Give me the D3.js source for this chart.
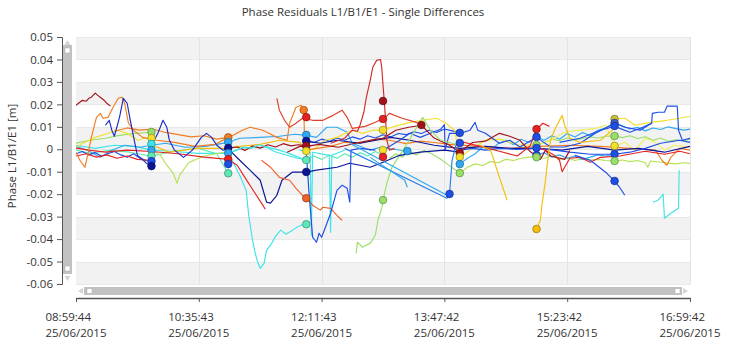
<!DOCTYPE html>
<html><head><meta charset="utf-8">
<script src="https://cdn.jsdelivr.net/npm/d3@7"></script>
<style>
body{margin:0;background:#fff}
svg{display:block}
text{font-family:"Open Sans",sans-serif;}
</style>
</head><body>
<svg id="chart" width="729" height="346"></svg>
<script>
// ---------- text / ticks ----------
const chartTitle = "Phase Residuals L1/B1/E1 - Single Differences";
const yAxisTitle = "Phase L1/B1/E1 [m]";
const yTicks = [-0.06,-0.05,-0.04,-0.03,-0.02,-0.01,0,0.01,0.02,0.03,0.04,0.05];
const xTickTimes = ["08:59:44","10:35:43","12:11:43","13:47:42","15:23:42","16:59:42"];
const xTickDate = "25/06/2015";
const startTime = "08:59:44";

// ---------- series: [minutes since 08:59:44, residual in m] ----------
const s01 = [[0,.0196],[2,.0205],[5,.0218],[8,.0214],[10,.0227],[12,.0232],[15,.025],[17,.024],[20,.0227],[22,.0218],[24,.0205],[27,.0192]];
const s02 = [[0,-.0013],[3,-.0049],[7,-.008],[10,-.0004],[12,.0053],[16,.0142],[19,.016],[21,.0138],[25,.0142],[29,.0187],[33,.0227],[36,.0232],[38,.0205],[41,.0116],[45,.0085],[52,.0053],[63,.004],[77,.0031],[93,.0013],[109,.0022],[119,.0053]];
const s03 = [[120,.0053],[130,.0085],[136,.0098],[146,.0085],[157,.0053],[165,.004],[167,.0116],[172,.0187],[176,.0196],[178,.0174],[179,-.0004],[199,.0013],[210,.0031],[222,.0027],[235,.0045],[245,.004],[258,.0025],[269,.0036],[280,.003],[292,.0022],[316,.0013],[339,.0004],[363,.0013],[386,.0018],[410,.0013],[433,.0004],[453,-.0004],[458,-.0049],[462,-.0071],[465,-.0036],[472,.0004],[480,-.0004]];
const s04 = [[23,.0107],[26,.0129],[28,.0085],[30,.0058],[34,.0142],[37,.0227],[40,.0205],[42,.0142],[46,.0027],[48,-.0027],[51,-.004],[55,-.0062],[59,-.0076]];
const s05 = [[60,.0027],[64,.0071],[68,.0129],[71,.0098],[73,.004],[77,-.0004],[84,-.0036],[91,-.0004],[98,.0053],[102,.0071],[106,.0053],[110,.0018],[115,-.0004],[119,.0004]];
const s06 = [[120,-.0004],[128,-.0049],[136,-.0093],[144,-.0138],[149,-.0236],[152,-.024],[157,-.0205],[161,-.0138],[169,-.0102],[180,-.0102],[188,-.0093],[204,-.008],[214,-.0062],[230,-.008],[240,-.0058],[253,-.0027],[269,-.0013],[288,-.0004],[300,-.0013]];
const s07 = [[199,.0027],[210,.0049],[216,.0085],[220,.008],[222,.0107],[225,.0165],[227,.0232],[230,.0307],[232,.0365],[235,.0396],[238,.04],[239,.0365],[240,.0285],[241,.0214],[242,.013],[243,.004],[245,-.0004],[249,.0004]];
const s08 = [[157,.0227],[159,.0174],[163,.0129],[167,.0098],[172,.0116],[177,.0138],[185,.0129],[193,.0129],[201,.0151],[208,.0174],[212,.0142],[216,.0093],[226,.0102],[234,.012],[242,.0142],[245,.016],[255,.0138],[266,.012],[270,.0107]];
const s09 = [[119,-.0045],[126,-.0071],[132,-.0125],[141,-.0205],[146,-.0249],[148,-.0267]];
const s10 = [[145,-.0049],[152,-.008],[159,-.0125],[167,-.0138],[172,-.0174],[177,-.0205],[180,-.0218],[185,-.0249],[191,-.0271],[193,-.0258],[199,-.0263],[204,-.0294],[208,-.0316]];
const s11 = [[122,-.0049],[128,-.0116],[133,-.0183],[135,-.0294],[138,-.0405],[140,-.046],[142,-.0503],[144,-.053],[147,-.0508],[149,-.045],[153,-.0418],[156,-.0388],[160,-.036],[164,-.0378],[168,-.0365],[172,-.035],[176,-.0338],[180,-.0334]];
const s12 = [[175,-.0004],[183,-.0013],[184,-.0383],[185,-.0013],[198,-.0027],[199,-.037],[200,-.0027],[210,-.0004]];
const s13 = [[180,-.0004],[182,-.0183],[185,-.0392],[188,-.0414],[190,-.0374],[192,-.0392],[195,-.0347],[199,-.0285],[204,-.0183],[208,-.016],[212,-.0174],[214,-.0236],[215,-.0004],[222,.0004],[234,-.0004]];
const s14 = [[219,-.0463],[220,-.0414],[224,-.0436],[230,-.0418],[234,-.0383],[236,-.0316],[239,-.0263],[240,-.0227],[243,-.0151],[247,-.008],[252,-.0036],[259,.0027],[265,.0085],[271,.0142],[277,.0085],[285,.004],[300,.0018]];
const s15 = [[210,.0004],[290,-.0218],[292,-.02],[294,-.0049],[297,.0018]];
const s16 = [[214,.0027],[290,-.0205]];
const s17 = [[230,-.0036],[257,-.0138],[259,-.0169]];
const s18 = [[360,-.0356],[363,-.0316],[364,-.0258],[367,-.0138],[369,-.0036],[371,.004],[374,.0085],[378,.0129],[380,.0151],[382,.0107],[386,.0049],[394,.0031],[410,.004],[421,.0094]];
const s19 = [[316,.0018],[324,-.0004],[326,-.0036],[331,-.0125],[337,-.0227]];
const s20 = [[378,.0031],[394,.0049],[410,.0085],[421,.0102],[433,.0076],[443,.0098],[450,.0116],[450.5,.016],[455,.0165],[460,.0165],[462,.0192],[470,.0192],[471,.0085],[474,.004],[480,.0049]];
const s21 = [[451,-.0236],[455,-.0227],[459,-.02],[460,-.0307],[465,-.0285],[471,-.0263],[471.5,-.0093]];
const s22 = [[390,-.0027],[402,-.0049],[415,-.0107],[421,-.0142],[425,-.017],[429,-.0205]];
const s23 = [[0,.001],[7,.0031],[15,.0053],[23,.0067],[32,.0085],[40,.0071],[48,.004],[54,.0049],[59,.0049]];
const s24 = [[62,.0013],[73,-.0013],[85,-.0004],[95,.0004],[118,.0004],[128,.0013],[144,.0022],[159,.004],[175,.0031],[180,-.0009]];
const s25 = [[180,-.0009],[187,.0004],[195,.004],[204,.0053],[216,.0085],[224,.0071],[232,.0085],[240,.0085],[249,.0102],[261,.012],[271,.0129],[282,.0138],[288,.012],[296,.0085],[300,-.0036]];
const s26 = [[300,-.0036],[310,.0005],[320,.004],[331,.0045],[345,.002],[360,.0018]];
const s27 = [[421,.0134],[429,.0138],[437,.0107],[449,.012],[462,.0129],[472,.0138],[480,.0147]];
const s28 = [[360,.0018],[371,.004],[382,.0076],[394,.0085],[406,.0093],[414,.0107],[421,.0013],[429,.0031],[437,-.0004],[445,.0049],[453,.0031],[460,-.0004],[468,.0018],[480,.0009]];
const s29 = [[0,.0027],[11,.004],[23,.0049],[34,.0062],[46,.0071],[59,.0076]];
const s30 = [[59,-.0004],[66,-.0027],[71,-.0071],[76,-.0107],[79,-.0151],[81,-.0116],[88,-.006],[100,-.003],[119,-.001]];
const s31 = [[0,-.0004],[11,-.0018],[27,-.0004],[42,-.0013],[59,-.0031],[75,-.001],[95,.0005],[110,-.002],[119,-.0107]];
const s32 = [[0,.0013],[9,-.0004],[19,-.0036],[28,-.0004],[38,.0018],[50,.0009],[59,.0018],[70,.0027],[85,.0009],[101,.0013],[119,.0031],[128,.0049],[144,.0053],[159,.0058],[171,.0067],[180,.0062],[188,.0053],[196,.0098],[204,.0098],[212,.0076],[216,.0027],[230,-.0004],[238,.0009],[259,-.0009]];
const s33 = [[0,.0018],[15,.0004],[30,.0018],[46,.0013],[59,-.0004],[75,-.0009],[95,-.0018],[119,-.0018],[130,.0005],[150,.001],[165,-.0015],[180,-.0049]];
const s34 = [[240,-.0004],[253,.004],[261,.0071],[269,.0053],[277,.0071],[285,.0089],[288,.011],[288.5,-.0004],[292,.0071],[300,.0071],[308,.0085],[312,.012],[314,.0085],[320,.0071],[331,.0027],[339,.004],[347,.001],[360,.0053],[371,.001],[382,.001],[394,.0027],[406,.0071],[421,.0116],[429,.0098],[441,.0085],[450,.0116]];
const s35 = [[300,-.0004],[310,.0004],[320,-.0004],[331,.0004],[345,-.0001],[360,.0004],[374,-.0004],[386,-.0013],[402,-.0022],[421,-.0022],[433,-.0013],[445,.0004],[457,.0027],[472,.004],[480,.0031]];
const s36 = [[180,.0036],[191,.0027],[204,.004],[222,.0027],[246,.0053],[261,.004],[280,.0018],[300,.0004],[320,.0013],[340,.0004],[360,.0004],[380,-.0004],[400,.0013],[421,-.0004],[440,.0004],[460,-.0013],[480,.0013]];
const s37 = [[165,-.0013],[175,.0013],[180,.0013],[190,.0022],[205,.0009],[222,.0031],[235,.0045],[240,.0049],[250,.0085],[260,.0098],[270,.0107],[280,.005],[292,.0018],[300,-.0013],[310,.003],[320,.0036],[331,.0071],[339,.0058],[347,.004],[355,-.001],[363,-.0045],[367,-.0005],[371,-.003],[382,-.0045],[386,-.0005]];
const s38 = [[0,.0005],[10,-.0004],[23,-.0013],[40,-.0004],[59,-.001],[80,-.002],[100,-.0035],[119,-.0045]];
const s39 = [[300,.0036],[316,.0013],[331,-.0009],[345,-.003],[355,.0015],[360,.0089],[365,.0116],[370,.0102]];
const s40 = [[360,.0009],[367,-.0004],[374,-.0027],[378,-.0049],[380,-.01],[386,-.004],[394,-.0036],[402,-.0058],[410,-.0036],[425,-.003],[445,-.0009],[460,-.0022],[472,-.0009],[480,-.002]];
const s41 = [[300,-.0066],[306,-.004],[312,-.002],[318,.001],[324,-.0005],[330,.0025],[336,.004],[342,.002],[348,.0045],[354,.003],[360,.0055],[366,.004],[372,.006],[378,.0045],[384,.007],[390,.0055],[396,.0075],[402,.006],[408,.0085],[414,.0095],[421,.0117],[427,.0105],[433,.009],[439,.0098],[445,.0082],[451,.0095],[457,.0088],[463,.01],[469,.0092],[475,.0085],[480,.009]];
const s42 = [[300,-.0106],[306,-.008],[312,-.0065],[318,-.0072],[324,-.0055],[330,-.006],[336,-.0045],[342,-.005],[348,-.004],[354,-.0035],[360,-.0035],[366,-.004],[372,-.003],[378,-.0045],[384,-.0038],[390,-.005],[396,-.0042],[402,-.0048],[408,-.0045],[414,-.005],[421,-.0052],[427,-.0048],[433,-.0055],[439,-.005],[445,-.006],[447,-.008],[449,-.0052],[457,-.0058],[463,-.0062],[469,-.0065],[475,-.006],[480,-.0063]];
const s43 = [[360,.0019],[366,.003],[372,.0045],[378,.0038],[384,.005],[390,.0042],[396,.0048],[402,.0055],[408,.005],[414,.0058],[421,.0059],[427,.0052],[433,.006],[439,.0048],[445,.0056],[451,.004],[457,.005],[463,.0035],[469,.0042],[475,.0038],[480,.0045]];
const s44 = [[0,-.002],[5,-.001],[10,-.0025],[15,-.0015],[20,-.003],[25,-.002],[30,-.001],[35,-.0025],[40,-.0035],[45,-.002],[50,-.004],[55,-.005],[59,-.0053]];
const s45 = [[30,.008],[40,.0095],[50,.0085],[60,.009],[70,.0075],[80,.0065],[90,.0055],[100,.006],[110,.0045],[119,.0053]];
const s46 = [[0,-.003],[8,-.002],[16,-.0035],[24,-.0025],[32,-.004],[40,-.003],[48,-.0045],[59,-.005]];
const s47 = [[119,.0006],[126,.001],[132,-.0005],[138,.0015],[144,.0005],[150,.002],[156,.001],[162,.0025],[168,.0015],[174,.002],[180,.0015]];
const s48 = [[119,-.0017],[125,-.0005],[131,.001],[137,.0005],[143,.002],[149,.001],[155,-.001],[161,-.002],[167,-.003],[173,-.004],[180,-.0048]];
const s49 = [[180,.0037],[186,.003],[192,.0045],[198,.0035],[204,.005],[210,.004],[216,.0055],[222,.0045],[228,.006],[234,.005],[240,.0065],[246,.0055],[252,.007],[258,.0065],[264,.0078],[270,.007],[276,.0085],[282,.0075],[288,.009],[294,.0082],[300,.0073]];
const s50 = [[245,-.004],[250,-.002],[255,-.0035],[260,-.001],[266,-.0025],[272,-.0005],[278,-.002],[284,-.004],[290,-.0065],[296,-.009],[300,-.0106]];
const s51 = [[180,-.0048],[186,-.003],[192,-.0045],[198,-.0025],[204,-.004],[210,-.002],[216,-.0035],[222,-.0015],[228,-.003],[234,-.001],[240,-.0025]];
const s52 = [[360,-.0026],[366,-.0015],[372,-.0035],[378,-.0025],[384,-.004],[390,-.003],[396,-.0045],[402,-.0035],[408,-.0025],[414,-.003],[421,-.0021]];

// series with colour keys (styles kept in palette below)
const seriesList = [
  [s31,"aqua"],[s33,"cyan"],[s32,"sky"],[s29,"lgreen"],[s30,"ygreen"],[s23,"yellow"],[s24,"gold"],
  [s44,"blue"],[s45,"orange"],[s46,"red"],[s47,"darkred"],[s48,"cyan"],[s49,"blue"],[s50,"lgreen"],[s51,"aqua"],
  [s41,"sky"],[s42,"ygreen"],[s43,"lgreen"],[s52,"sky"],
  [s25,"yellow"],[s26,"yellow"],[s27,"yellow"],[s28,"lyellow"],[s38,"red"],[s03,"orange"],
  [s36,"navy"],[s35,"blue"],[s34,"blue"],[s37,"darkred"],[s39,"red"],[s40,"red"],
  [s12,"cyan"],[s11,"cyan"],[s14,"lgreen"],[s19,"gold"],[s18,"gold"],[s21,"cyan"],
  [s01,"darkred"],[s02,"orange"],[s04,"mblue"],[s05,"mblue"],[s06,"navy"],[s09,"red"],[s10,"orangered"],
  [s08,"red2"],[s07,"spike"],[s13,"blue"],[s15,"blue2"],[s16,"sky"],[s17,"sky"],[s20,"blue"],[s22,"blue"]
];

// markers: [minutes, value, colour key]
const markers = [
  [59,.0077,"lgreen"],[59,.005,"yellow"],[59,.0024,"cyan"],[59,-.0003,"sky"],[59,-.003,"aqua"],[59,-.0053,"blue"],[59,-.0075,"navy"],
  [119,.0053,"orange"],[119,.0032,"sky"],[119,.0006,"navy"],[119,-.0017,"sky"],[119,-.0044,"red"],[119,-.0066,"blue"],[119,-.0107,"aqua"],
  [178,.0175,"orange"],[180,.0143,"red"],[180,.0064,"sky"],[180,.0037,"navy"],[180,.0015,"darkred"],[180,-.0008,"yellow"],[180,-.0048,"aqua"],[180,-.0101,"navy"],[180,-.0218,"orangered"],[180,-.0334,"aqua"],
  [240,.0215,"darkred"],[240,.0135,"red"],[240,.0086,"yellow"],[240,-.0003,"yellow"],[240,-.0034,"red"],[240,-.0226,"lgreen"],
  [259,-.0008,"sky"],[270,.0108,"darkred"],
  [300,.0073,"blue"],[300,.0028,"blue"],[300,-.0017,"darkred"],[300,-.0035,"yellow"],[300,-.0066,"sky"],[300,-.0106,"lgreen"],[292,-.0199,"blue"],
  [360,.009,"red"],[360,.0055,"blue"],[360,.0019,"lgreen"],[360,.0006,"blue"],[360,-.0026,"blue"],[360,-.0035,"lgreen"],[360,-.0355,"gold"],
  [421,.0135,"olive"],[421,.0117,"slate"],[421,.0104,"blue"],[421,.0059,"lgreen"],[421,.0015,"yellow"],[421,-.0021,"blue"],[421,-.0052,"lgreen"],[421,-.0141,"blue"]
];

// ---------- styles ----------
const palette = {
  darkred:"#a3121c", red:"#e42222", red2:"#e0402c", spike:"#d22a2a", orangered:"#f0602a", orange:"#f37c22",
  gold:"#f5be0a", yellow:"#f2e02c", lyellow:"#f0ee5a", ygreen:"#b4e254", lgreen:"#98e06a", aqua:"#5ee8b6",
  cyan:"#3ee4e6", sky:"#30a8f2", blue2:"#2a7ee8", blue:"#1f4ee6", mblue:"#1c2cc0", navy:"#0c1496",
  olive:"#c8c040", slate:"#4060c0"
};

const W = 729, H = 346;
const L = 76, R = 690, T = 37, B = 284;
const toMin = s => { const [h,m,sec] = s.split(":").map(Number); return h*60+m+sec/60; };
const t0 = toMin(startTime);
const xTickVals = xTickTimes.map(s => toMin(s) - t0);

const svg = d3.select("#chart");
svg.append("rect").attr("width",W).attr("height",H).attr("fill","#fff");

const x = d3.scaleLinear().domain([0, xTickVals[xTickVals.length-1]]).range([L, R]);
const y = d3.scaleLinear().domain([-0.06, 0.05]).range([B, T]);

// background bands
const bands = yTicks.slice(0,-1).map((v,i)=>[v, yTicks[i+1], i]);
svg.append("g").selectAll("rect").data(bands).join("rect")
  .attr("x", L).attr("width", R-L)
  .attr("y", d=>y(d[1])).attr("height", d=>y(d[0])-y(d[1]))
  .attr("fill", d=> d[2]%2===0 ? "#f2f2f2" : "#ffffff");
svg.append("g").selectAll("line").data(yTicks).join("line")
  .attr("x1",L).attr("x2",R).attr("y1",d=>Math.round(y(d))+0.5).attr("y2",d=>Math.round(y(d))+0.5)
  .attr("stroke","#e8e8e8");
svg.append("g").selectAll("line").data(xTickVals.slice(1)).join("line")
  .attr("x1",d=>Math.round(x(d))+0.5).attr("x2",d=>Math.round(x(d))+0.5).attr("y1",T).attr("y2",B)
  .attr("stroke","#e4e4e4");

// clip
svg.append("clipPath").attr("id","clip").append("rect").attr("x",L).attr("y",T).attr("width",R-L).attr("height",B-T);
const plot = svg.append("g").attr("clip-path","url(#clip)");

const line = d3.line().x(d=>x(d[0])).y(d=>y(d[1]));
plot.selectAll("path.s").data(seriesList).join("path").attr("class","s")
  .attr("d", d=>line(d[0])).attr("fill","none")
  .attr("stroke", d=>palette[d[1]]).attr("stroke-width",1.15).attr("stroke-linejoin","round");

plot.selectAll("circle").data(markers).join("circle")
  .attr("cx", d=>x(d[0])).attr("cy", d=>y(d[1])).attr("r",3.8)
  .attr("fill", d=>palette[d[2]])
  .attr("stroke", d=>d3.color(palette[d[2]]).darker(1.2)).attr("stroke-width",0.8);

// y axis
const yAxis = d3.axisLeft(y).tickValues(yTicks).tickSize(5).tickSizeOuter(5).tickPadding(4)
  .tickFormat(d => d===0 ? "0" : d.toFixed(2));
const gy = svg.append("g").attr("transform","translate(62,0)").call(yAxis);
gy.selectAll("path,line").attr("stroke","#555");
gy.selectAll("text").attr("font-size","11.5px").attr("fill","#333").attr("font-family","Open Sans");

// x axis
const xAxis = d3.axisBottom(x).tickValues(xTickVals).tickSize(4).tickSizeOuter(0).tickFormat("");
const gx = svg.append("g").attr("transform","translate(0,298)").call(xAxis);
gx.selectAll("path,line").attr("stroke","#555");
gx.select("path.domain").attr("stroke-width",1.5);
const lab = svg.append("g").attr("font-size","11.5px").attr("fill","#333");
xTickVals.forEach((v,i)=>{
  const t2 = lab.append("text").attr("x",x(v)).attr("y",337).attr("text-anchor","middle").text(xTickDate);
  const bx = t2.node().getBBox().x;
  lab.append("text").attr("x",bx).attr("y",321).text(xTickTimes[i]);
});

// title & axis title
svg.append("text").attr("x",363).attr("y",16).attr("text-anchor","middle")
  .attr("font-size","11.5px").attr("fill","#333").text(chartTitle);
svg.append("text").attr("transform","translate(16,156) rotate(-90)").attr("text-anchor","middle")
  .attr("font-size","11.5px").attr("fill","#333").text(yAxisTitle);

// scrollbars (decoration)
const sb = svg.append("g");
sb.append("rect").attr("x",63).attr("y",45).attr("width",9).attr("height",229).attr("fill","#c2c2c2");
sb.append("path").attr("d","M64.5,45 L67.5,40 L70.5,45 Z").attr("fill","#d4d4d4");
sb.append("path").attr("d","M64.5,276 L67.5,281 L70.5,276 Z").attr("fill","#d4d4d4");
sb.append("rect").attr("x",65).attr("y",48).attr("width",5).attr("height",5).attr("fill","#fff").attr("stroke","#aaa").attr("stroke-width",0.5);
sb.append("rect").attr("x",65).attr("y",266).attr("width",5).attr("height",5).attr("fill","#fff").attr("stroke","#aaa").attr("stroke-width",0.5);
sb.append("rect").attr("x",84).attr("y",287).attr("width",598).attr("height",8).attr("fill","#c2c2c2");
sb.append("path").attr("d","M83,288 L78,291 L83,294 Z").attr("fill","#d4d4d4");
sb.append("path").attr("d","M683,288 L688,291 L683,294 Z").attr("fill","#d4d4d4");
sb.append("rect").attr("x",87).attr("y",288.5).attr("width",5).attr("height",5).attr("fill","#fff").attr("stroke","#aaa").attr("stroke-width",0.5);
sb.append("rect").attr("x",675).attr("y",288.5).attr("width",5).attr("height",5).attr("fill","#fff").attr("stroke","#aaa").attr("stroke-width",0.5);
</script>
</body></html>
